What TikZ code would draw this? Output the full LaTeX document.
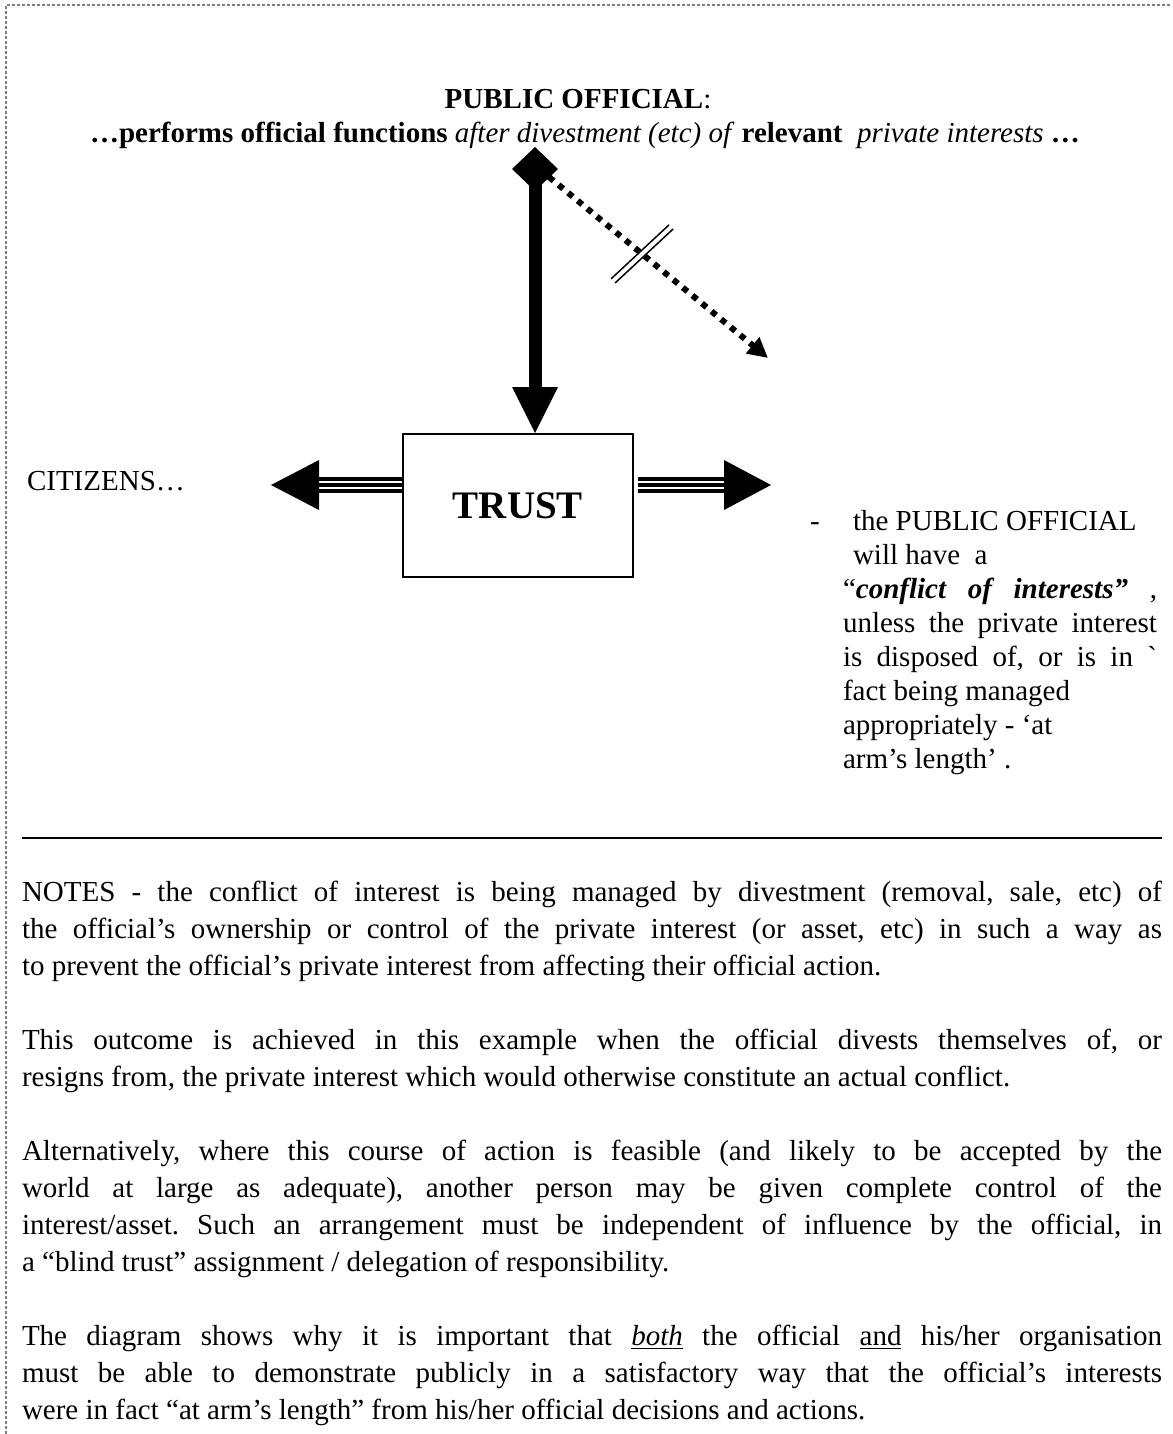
\documentclass[tikz,border=0pt]{standalone}
\usepackage{fontspec}
\setmainfont{Liberation Serif}
\usetikzlibrary{calc,arrows.meta}
\newcommand\bodyfont{\fontsize{14.5}{16.5}\selectfont\frenchspacing}
\newcommand\jrow[2]{\makebox[#1][s]{#2}}
\begin{document}
\begin{tikzpicture}[x=0.5pt,y=-0.5pt,
  txt/.style={inner sep=0pt,outer sep=0pt,font=\bodyfont,anchor=base west},
  ttl/.style={inner sep=0pt,outer sep=0pt,font=\bodyfont\bfseries,anchor=base},
  frame/.style={draw=gray,line width=0.6pt,dash pattern=on 1.5pt off 1pt},
  trustbox/.style={draw,line width=1pt,minimum width=115pt,minimum height=71.5pt,inner sep=0pt,font=\fontsize{19.5}{22}\selectfont\bfseries},
  rail/.style={line width=1.6pt},
  dotline/.style={line width=3pt,dash pattern=on 3pt off 3.2pt,-{Triangle[length=10pt,width=10pt]}},
  slash/.style={line width=0.75pt}]
\useasboundingbox (0,0) rectangle (1172,1434);
% page frame
\draw[frame] (6,1434) -- (6,5) -- (1172,5);

% title
\node[ttl] (t1) at (578,109) {PUBLIC OFFICIAL\textmd{:}};
\node[ttl] (t2) at (585,142) {…performs official functions \textmd{\textit{after divestment (etc) of}} relevant \ \textmd{\textit{private interests}} …};

% trust box
\node[trustbox] (trust) at (518,505.5) {TRUST};

% vertical arrow with diamond tail
\coordinate (vtop) at (535,147);
\coordinate (vtip) at (vtop |- trust.north);
\fill (vtop) -- ++(23,22) -- ++(-23,22) -- ++(-23,-22) -- cycle;
\fill ($(vtop)+(-6.5,22)$) rectangle ($(vtip)+(6.5,-45)$);
\fill ($(vtip)+(-23,-46)$) -- ($(vtip)+(23,-46)$) -- (vtip) -- cycle;

% dotted arrow, crossed out
\coordinate (ds) at (549,177);
\coordinate (de) at (768,358);
\draw[dotline] (ds) -- (de);
\coordinate (sl) at ($(ds)!0.425!(de)$);
\draw[white,line width=3.5pt] ($(sl)+(-29,27)$) -- ($(sl)+(29,-27)$);
\draw[slash] ($(sl)+(-29,27)+(-2,-2.1)$) -- ($(sl)+(29,-27)+(-2,-2.1)$);
\draw[slash] ($(sl)+(-29,27)+(2,2.1)$) -- ($(sl)+(29,-27)+(2,2.1)$);

% left arrow
\coordinate (la) at ($(trust.west)+(0,-20.5)$);
\coordinate (ltip) at (271,485);
\coordinate (lb) at (la -| 319,0);
\foreach \o in {-6,0,6}{\draw[rail] ($(la)+(0,\o)$) -- ($(lb)+(0,\o)$);}
\fill ($(lb)+(0,-25)$) -- (ltip) -- ($(lb)+(0,25)$) -- cycle;

% right arrow
\coordinate (ra) at ($(trust.east)+(4,-20.5)$);
\coordinate (rtip) at (771,485);
\coordinate (rb) at (ra -| 724,0);
\foreach \o in {-6,0,6}{\draw[rail] ($(ra)+(0,\o)$) -- ($(rb)+(0,\o)$);}
\fill ($(rb)+(0,-25)$) -- (rtip) -- ($(rb)+(0,25)$) -- cycle;

% citizens
\node[txt] (cit) at (27,490) {CITIZENS…};

% right block
\node[txt] (dash) at (810,530) {-};
\node[txt] (r1) at (853,530) {the PUBLIC OFFICIAL};
\node[txt] (r2) at (853,564) {will have\ \ a};
\node[txt] (r3) at (843,598) {\jrow{157pt}{“\textbf{\textit{conflict of interests”}} ,}};
\node[txt] (r4) at (843,632) {\jrow{157pt}{unless the private interest}};
\node[txt] (r5) at (843,666) {\jrow{157pt}{is disposed of, or is in \textasciigrave}};
\node[txt] (r6) at (843,700) {fact being managed};
\node[txt] (r7) at (843,734) {appropriately - ‘at};
\node[txt] (r8) at (843,768) {arm’s length’ .};

% rule
\coordinate (ruleL) at (22,838);
\coordinate (ruleR) at (1162,838);
\draw[line width=1pt] (ruleL) -- (ruleR);

% notes
\node[txt] (n1) at (22,901) {\jrow{570pt}{NOTES - the conflict of interest is being managed by divestment (removal, sale, etc) of}};
\node[txt] (n2) at (22,938) {\jrow{570pt}{the official’s ownership or control of the private interest (or asset, etc) in such a way as}};
\node[txt] (n3) at (22,975) {to prevent the official’s private interest from affecting their official action.};

\node[txt] (n4) at (22,1049) {\jrow{570pt}{This outcome is achieved in this example when the official divests themselves of, or}};
\node[txt] (n5) at (22,1086) {resigns from, the private interest which would otherwise constitute an actual conflict.};

\node[txt] (n6) at (22,1160) {\jrow{570pt}{Alternatively, where this course of action is feasible (and likely to be accepted by the}};
\node[txt] (n7) at (22,1197) {\jrow{570pt}{world at large as adequate), another person may be given complete control of the}};
\node[txt] (n8) at (22,1234) {\jrow{570pt}{interest/asset. Such an arrangement must be independent of influence by the official, in}};
\node[txt] (n9) at (22,1271) {a “blind trust” assignment / delegation of responsibility.};

\node[txt] (n10) at (22,1345) {\jrow{570pt}{The diagram shows why it is important that \underline{\textit{both}} the official \underline{and} his/her organisation}};
\node[txt] (n11) at (22,1382) {\jrow{570pt}{must be able to demonstrate publicly in a satisfactory way that the official’s interests}};
\node[txt] (n12) at (22,1419) {were in fact “at arm’s length” from his/her official decisions and actions.};
\end{tikzpicture}
\end{document}
